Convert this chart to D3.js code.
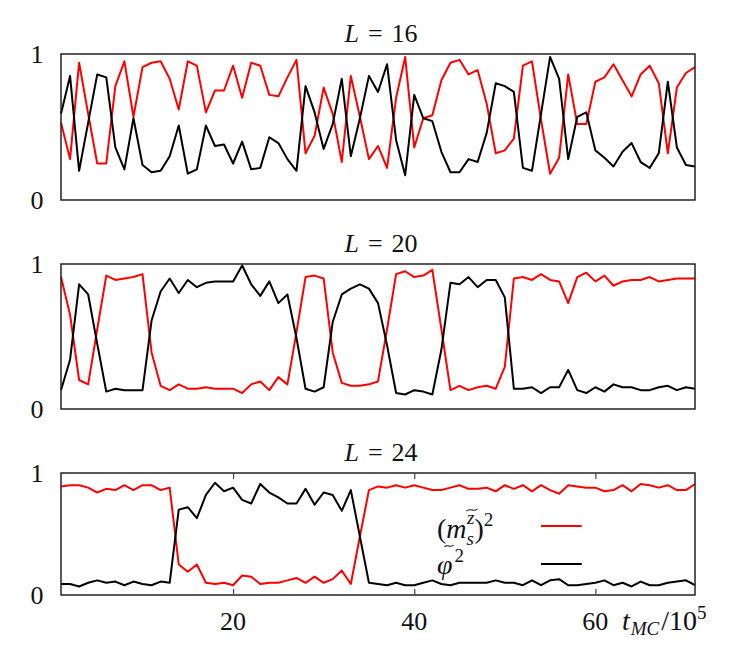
<!DOCTYPE html>
<html>
<head>
<meta charset="utf-8">
<script src="https://cdn.jsdelivr.net/npm/d3@7"></script>
<style>
  body { margin: 0; background: #fff; }
  svg { display: block; }
  text { font-family: "Liberation Serif", "DejaVu Serif", serif; fill: #111; }
</style>
</head>
<body>
<svg id="chart" width="747" height="659"></svg>
<script>
// ---- data (t_MC / 10^5 runs 1..71, one sample per unit) ----
const tValues = d3.range(1, 72);
const xTicks = [20, 40, 60];
const yTickLabels = ["0", "1"];
const panelTitles = ["16", "20", "24"];

const m16 = [0.53,0.28,0.94,0.59,0.25,0.25,0.78,0.95,0.57,0.91,0.94,0.95,0.83,0.62,0.95,0.92,0.60,0.75,0.75,0.92,0.70,0.94,0.92,0.72,0.71,0.84,0.96,0.32,0.44,0.77,0.59,0.26,0.85,0.57,0.28,0.37,0.22,0.70,0.98,0.36,0.56,0.58,0.82,0.94,0.96,0.86,0.89,0.66,0.32,0.34,0.42,0.92,0.95,0.55,0.18,0.29,0.86,0.52,0.52,0.81,0.84,0.93,0.82,0.71,0.86,0.92,0.80,0.32,0.77,0.87,0.91];
const p16 = [0.59,0.85,0.20,0.53,0.86,0.84,0.36,0.21,0.56,0.24,0.19,0.20,0.30,0.51,0.18,0.21,0.51,0.37,0.38,0.25,0.40,0.21,0.22,0.43,0.39,0.28,0.20,0.78,0.60,0.35,0.52,0.83,0.30,0.56,0.85,0.74,0.93,0.41,0.17,0.72,0.56,0.54,0.33,0.19,0.19,0.28,0.26,0.46,0.80,0.78,0.74,0.22,0.20,0.59,0.98,0.83,0.28,0.57,0.60,0.34,0.29,0.23,0.33,0.39,0.26,0.22,0.32,0.81,0.36,0.24,0.23];

const m20 = [0.91,0.65,0.20,0.17,0.55,0.92,0.89,0.90,0.91,0.93,0.39,0.16,0.13,0.17,0.14,0.14,0.15,0.14,0.14,0.14,0.11,0.17,0.19,0.13,0.22,0.17,0.53,0.91,0.92,0.90,0.39,0.18,0.16,0.16,0.17,0.19,0.55,0.93,0.95,0.91,0.92,0.96,0.55,0.13,0.16,0.13,0.15,0.16,0.14,0.29,0.90,0.91,0.89,0.93,0.89,0.88,0.73,0.91,0.94,0.88,0.92,0.85,0.88,0.89,0.89,0.91,0.88,0.89,0.90,0.90,0.90];
const p20 = [0.13,0.34,0.86,0.79,0.45,0.12,0.14,0.13,0.13,0.13,0.61,0.81,0.90,0.80,0.89,0.84,0.87,0.88,0.88,0.88,0.99,0.86,0.78,0.88,0.73,0.79,0.49,0.14,0.12,0.15,0.60,0.79,0.83,0.86,0.83,0.73,0.44,0.11,0.10,0.13,0.12,0.10,0.41,0.87,0.86,0.91,0.84,0.89,0.89,0.77,0.14,0.14,0.15,0.11,0.15,0.15,0.27,0.13,0.11,0.15,0.12,0.17,0.15,0.15,0.13,0.13,0.15,0.16,0.13,0.15,0.14];

const m24 = [0.89,0.90,0.90,0.88,0.84,0.87,0.86,0.90,0.86,0.90,0.90,0.86,0.88,0.25,0.19,0.25,0.10,0.09,0.10,0.08,0.16,0.15,0.09,0.10,0.10,0.12,0.14,0.10,0.15,0.10,0.13,0.20,0.09,0.48,0.86,0.89,0.88,0.90,0.88,0.90,0.88,0.86,0.86,0.88,0.90,0.87,0.87,0.88,0.85,0.90,0.87,0.90,0.85,0.90,0.86,0.83,0.90,0.89,0.88,0.88,0.85,0.86,0.90,0.85,0.91,0.90,0.88,0.90,0.86,0.86,0.91];
const p24 = [0.09,0.09,0.07,0.10,0.12,0.10,0.11,0.08,0.11,0.09,0.08,0.11,0.10,0.70,0.72,0.63,0.82,0.92,0.85,0.88,0.78,0.75,0.91,0.84,0.80,0.75,0.75,0.87,0.74,0.84,0.82,0.69,0.86,0.48,0.10,0.09,0.08,0.10,0.08,0.08,0.10,0.12,0.09,0.08,0.10,0.10,0.10,0.10,0.12,0.10,0.10,0.08,0.12,0.08,0.12,0.13,0.08,0.08,0.09,0.10,0.12,0.08,0.10,0.07,0.11,0.08,0.08,0.10,0.11,0.12,0.08];

const seriesM = [m16, m20, m24];
const seriesP = [p16, p20, p24];

// ---- layout ----
const svg = d3.select("#chart");
const left = 61, right = 695;
const panels = [
  {top: 54, bottom: 200},
  {top: 264, bottom: 409},
  {top: 473, bottom: 595}
];
const red = "#ff0000", black = "#000000";
const FS = "26px", FSS = "19px";

const x = d3.scaleLinear().domain([1, 71]).range([left, right]);

function tilde(g, cx, cy, w) {
  const h = w * 0.22;
  g.append("path")
    .attr("d", `M${cx - w/2},${cy + h/2} C${cx - w/4},${cy - h*1.2} ${cx + w/4},${cy + h*1.2} ${cx + w/2},${cy - h/2}`)
    .attr("fill", "none").attr("stroke", "#111").attr("stroke-width", 1.1);
}

panels.forEach((p, k) => {
  const y = d3.scaleLinear().domain([0, 1]).range([p.bottom, p.top]);
  const g = svg.append("g");

  // title
  const title = g.append("text")
    .attr("x", 381).attr("y", p.top - 12)
    .attr("text-anchor", "middle")
    .style("font-size", FS);
  title.append("tspan").style("font-style", "italic").text("L");
  title.append("tspan").attr("dx", 9).text("=");
  title.append("tspan").attr("dx", 9).text(panelTitles[k]);

  // y labels
  g.selectAll("text.ylab").data(yTickLabels).enter().append("text")
    .attr("class", "ylab")
    .attr("x", 37)
    .attr("y", d => y(+d) + 9)
    .attr("text-anchor", "middle")
    .style("font-size", FS)
    .text(d => d);

  const line = d3.line().x((d, i) => x(tValues[i])).y(d => y(d));

  g.append("path").datum(seriesM[k])
    .attr("d", line).attr("fill", "none")
    .attr("stroke", red).attr("stroke-width", 2).attr("stroke-linejoin", "round");
  g.append("path").datum(seriesP[k])
    .attr("d", line).attr("fill", "none")
    .attr("stroke", black).attr("stroke-width", 2).attr("stroke-linejoin", "round");

  // frame
  g.append("rect")
    .attr("x", left).attr("y", p.top)
    .attr("width", right - left).attr("height", p.bottom - p.top)
    .attr("fill", "none").attr("stroke", "#222").attr("stroke-width", 1.5);

  if (k === 2) {
    const ax = d3.axisBottom(x).tickValues(xTicks).tickSize(-6).tickFormat("");
    g.append("g").attr("transform", `translate(0,${p.bottom})`).call(ax)
      .call(s => s.select(".domain").remove())
      .call(s => s.selectAll("line").attr("stroke", "#444").attr("stroke-width", 1.2));
    const axTop = d3.axisTop(x).tickValues(xTicks).tickSize(-6).tickFormat("");
    g.append("g").attr("transform", `translate(0,${p.top})`).call(axTop)
      .call(s => s.select(".domain").remove())
      .call(s => s.selectAll("line").attr("stroke", "#444").attr("stroke-width", 1.2));

    g.selectAll("text.xlab").data(xTicks).enter().append("text")
      .attr("class", "xlab")
      .attr("x", d => x(d))
      .attr("y", 630)
      .attr("text-anchor", "middle")
      .style("font-size", FS)
      .text(d => d);

    // axis title t_MC / 10^5
    const at = g.append("text").attr("x", 622).attr("y", 630).style("font-size", "28px");
    at.append("tspan").style("font-style", "italic").text("t");
    at.append("tspan").attr("dy", 5).attr("dx", 1).style("font-size", FSS).style("font-style", "italic").text("MC");
    at.append("tspan").attr("dy", -5).attr("dx", 2).text("/10");
    at.append("tspan").attr("dy", -11).style("font-size", FSS).text("5");

    // legend
    const lg = g.append("g");
    const t1 = lg.append("text").attr("x", 437).attr("y", 538).style("font-size", "28px");
    t1.append("tspan").text("(");
    t1.append("tspan").style("font-style", "italic").text("m");
    t1.append("tspan").attr("dy", 7).style("font-size", FSS).style("font-style", "italic").text("s");
    t1.append("tspan").attr("dx", -7).attr("dy", -21).style("font-size", FSS).style("font-style", "italic").text("z");
    t1.append("tspan").attr("dy", 14).text(")");
    t1.append("tspan").attr("dy", -12).style("font-size", FSS).text("2");
    tilde(lg, 472, 510, 11);

    const t2 = lg.append("text").attr("x", 437).attr("y", 574).style("font-size", "28px");
    t2.append("tspan").style("font-style", "italic").text("\u03C6");
    t2.append("tspan").attr("dy", -12).attr("dx", 2).style("font-size", FSS).text("2");
    tilde(lg, 449, 546, 9);

    lg.append("line").attr("x1", x(54)).attr("x2", x(58.5)).attr("y1", 526).attr("y2", 526)
      .attr("stroke", red).attr("stroke-width", 2);
    lg.append("line").attr("x1", x(54)).attr("x2", x(58.5)).attr("y1", 564).attr("y2", 564)
      .attr("stroke", black).attr("stroke-width", 2);
  }
});
</script>
</body>
</html>
